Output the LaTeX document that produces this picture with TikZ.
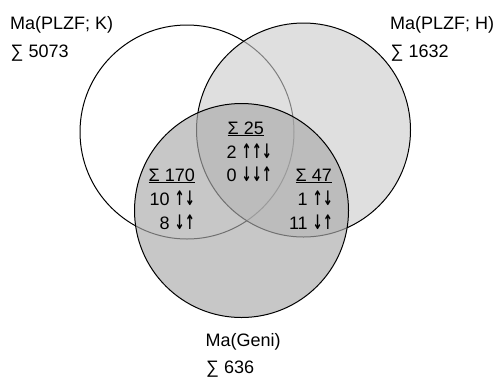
\documentclass[tikz,border=0pt]{standalone}
\usepackage{fontspec}
\setmainfont{Liberation Sans}
\newfontfamily\arrfont[FakeStretch=0.6]{DejaVu Sans}
\newcommand\arrs[1]{{\fontsize{20}{22}\arrfont\bfseries #1}}
\begin{document}
\begin{tikzpicture}[x=1pt,y=-1pt,
  setcircle/.style={circle,draw=black,line width=1pt,minimum size=214pt,inner sep=0pt},
  lbl/.style={inner sep=0pt,font=\fontsize{18}{22}\selectfont}]
\useasboundingbox (0,0) rectangle (497,376);
\node[setcircle,fill=white] (K) at (187,132) {};
\node[setcircle,fill={rgb,255:red,204;green,204;blue,204},fill opacity=0.62] (H) at (303.5,130) {};
\node[setcircle,fill={rgb,255:red,170;green,170;blue,170},fill opacity=0.66] (G) at (241.5,210.5) {};
% outer labels
\node[lbl,anchor=base west] (kname) at (10,29.5) {Ma(PLZF; K)};
\node[lbl,anchor=base west] (ksum) at (10.5,57.5) {∑ 5073};
\node[lbl,anchor=base west] (hname) at (390,29.5) {Ma(PLZF; H)};
\node[lbl,anchor=base west] (hsum) at (390.5,57.5) {∑ 1632};
\node[lbl,anchor=base west] (gname) at (205.5,346) {Ma(Geni)};
\node[lbl,anchor=base west] (gsum) at (206,373.5) {∑ 636};
% center
\node[lbl,anchor=base west] (c1) at (227.5,134) {\underline{Σ 25}};
\node[lbl,anchor=base west] (c2) at (226.5,158.3) {2 \arrs{↑↑↓}};
\node[lbl,anchor=base west] (c3) at (226.5,181.5) {0 \arrs{↓↓↑}};
% left
\node[lbl,anchor=base east] (l1) at (195,181) {\underline{Σ 170}};
\node[lbl,anchor=base east] (l2) at (195,205) {10 \arrs{↑↓}};
\node[lbl,anchor=base east] (l3) at (195,229) {8 \arrs{↓↑}};
% right
\node[lbl,anchor=base east] (r1) at (332,181) {\underline{Σ 47}};
\node[lbl,anchor=base east] (r2) at (333,205) {1 \arrs{↑↓}};
\node[lbl,anchor=base east] (r3) at (333,229) {11 \arrs{↓↑}};
\end{tikzpicture}
\end{document}
